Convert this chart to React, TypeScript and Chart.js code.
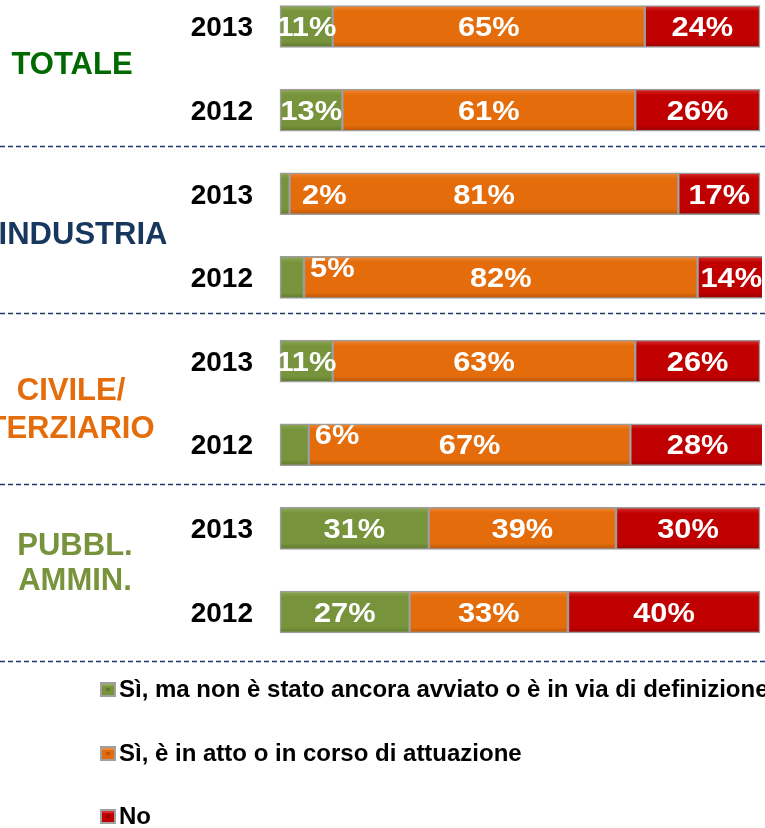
import React, { useEffect, useRef } from "react";
import { Chart, registerables } from "chart.js";
Chart.register(...registerables);

const years = ["2013", "2012", "2013", "2012", "2013", "2012", "2013", "2012"];
const groupLines = [["TOTALE"], ["INDUSTRIA"], ["CIVILE/", "TERZIARIO"], ["PUBBL.", "AMMIN."]];
const seriesNames = [
  "Sì, ma non è stato ancora avviato o è in via di definizione",
  "Sì, è in atto o in corso di attuazione",
  "No",
];
const notStarted = [11, 13, 2, 5, 11, 6, 31, 27];
const inProgress = [65, 61, 81, 82, 63, 67, 39, 33];
const noPlan = [24, 26, 17, 14, 26, 28, 30, 40];

const FONT = '"Liberation Sans", Arial, sans-serif';
const baseColors = ["#77933C", "#E46C0A", "#C00000"];
const lightColors = ["#8FAA55", "#F0893A", "#D83030"];
const darkColors = ["#5E7A2A", "#B8560A", "#960000"];
const groupColors = ["#006A00", "#17375E", "#E46C0A", "#77933C"];
// per-group text placement (center x, y offsets of each line from the pair midpoint)
const groupX = [72, 83, 71, 75];
const groupDy = [[-2.5], [0], [-11.5, 27], [-24, 11]];

function grad(k: number) {
  return (c: any) => {
    const ys = c.chart.scales?.y;
    if (!ys || c.dataIndex === undefined) return baseColors[k];
    const yc = ys.getPixelForValue(c.dataIndex);
    if (!Number.isFinite(yc)) return baseColors[k];
    const g = c.chart.ctx.createLinearGradient(0, yc - 21, 0, yc + 21);
    g.addColorStop(0, lightColors[k]);
    g.addColorStop(0.14, baseColors[k]);
    g.addColorStop(0.86, baseColors[k]);
    g.addColorStop(1, darkColors[k]);
    return g;
  };
}

const decorPlugin = {
  id: "decor",
  afterDatasetsDraw(chart: any) {
    const ctx = chart.ctx as CanvasRenderingContext2D;
    const ys = chart.scales.y;
    const area = chart.chartArea;

    // year (category) labels
    ctx.save();
    ctx.font = `bold 28px ${FONT}`;
    ctx.fillStyle = "#000000";
    ctx.textAlign = "right";
    ctx.textBaseline = "middle";
    (chart.data.labels as string[]).forEach((lab, i) => {
      ctx.fillText(lab, area.left - 27, ys.getPixelForValue(i) + 2);
    });
    ctx.restore();

    // data labels
    chart.data.datasets.forEach((ds: any, di: number) => {
      const meta = chart.getDatasetMeta(di);
      meta.data.forEach((bar: any, i: number) => {
        const v = ds.data[i] as number;
        const p = bar.getProps(["x", "y", "base"], true);
        ctx.save();
        ctx.font = `bold 28px ${FONT}`;
        ctx.fillStyle = "#FFFFFF";
        ctx.textBaseline = "middle";
        const txt = v + "%";
        if (v < 8) {
          const left = Math.max(p.x + 6, area.left + 22);
          const yy = p.y + (v >= 5 ? -8 : 2);
          ctx.translate(left, yy);
          ctx.scale(1.1, 1);
          ctx.textAlign = "left";
          ctx.fillText(txt, 0, 0);
        } else {
          ctx.translate((p.x + p.base) / 2, p.y + 2);
          ctx.scale(1.1, 1);
          ctx.textAlign = "center";
          ctx.fillText(txt, 0, 0);
        }
        ctx.restore();
      });
    });

    // group labels
    groupLines.forEach((lines, g) => {
      const mid = (ys.getPixelForValue(2 * g) + ys.getPixelForValue(2 * g + 1)) / 2;
      ctx.save();
      ctx.font = `bold 31px ${FONT}`;
      ctx.fillStyle = groupColors[g];
      ctx.textAlign = "center";
      ctx.textBaseline = "middle";
      lines.forEach((t, li) => ctx.fillText(t, groupX[g], mid + groupDy[g][li]));
      ctx.restore();
    });

    // dashed separators
    const sepY = [
      (ys.getPixelForValue(1) + ys.getPixelForValue(2)) / 2 - 6,
      (ys.getPixelForValue(3) + ys.getPixelForValue(4)) / 2 - 6,
      (ys.getPixelForValue(5) + ys.getPixelForValue(6)) / 2 - 3,
      ys.getPixelForValue(7) + 49,
    ];
    ctx.save();
    ctx.strokeStyle = "#1F3A6B";
    ctx.lineWidth = 1.5;
    ctx.setLineDash([5, 3]);
    sepY.forEach((y) => {
      ctx.beginPath();
      ctx.moveTo(0, Math.round(y) + 0.5);
      ctx.lineTo(chart.width, Math.round(y) + 0.5);
      ctx.stroke();
    });
    ctx.restore();

    // legend
    const legY = [689, 753, 816];
    chart.data.datasets.forEach((ds: any, di: number) => {
      const y = legY[di];
      ctx.save();
      ctx.fillStyle = "#A0A0A0";
      ctx.fillRect(100, y - 7, 16, 15);
      ctx.fillStyle = baseColors[di];
      ctx.fillRect(102, y - 5, 12, 11);
      ctx.fillStyle = lightColors[di];
      ctx.fillRect(102, y - 5, 12, 2);
      ctx.fillStyle = darkColors[di];
      ctx.fillRect(106, y - 1, 4, 3);
      ctx.font = `bold 24px ${FONT}`;
      ctx.fillStyle = "#000000";
      ctx.textBaseline = "middle";
      ctx.textAlign = "left";
      ctx.fillText(ds.label, 119, y + 1);
      ctx.restore();
    });
  },
};

export default function App() {
  const ref = useRef<HTMLCanvasElement>(null);
  useEffect(() => {
    document.body.style.margin = "0";
    const canvas = ref.current!;
    const chart = new Chart(canvas, {
      type: "bar",
      data: {
        labels: years,
        datasets: [notStarted, inProgress, noPlan].map((d, k) => ({
          label: seriesNames[k],
          data: d,
          backgroundColor: grad(k) as any,
          borderColor: "#9C9C9C",
          borderWidth: 1.5,
          borderSkipped: false,
          barThickness: 42,
          clip: { left: false, top: false, bottom: false, right: 2 } as any,
        })),
      },
      options: {
        indexAxis: "y",
        animation: false,
        responsive: false,
        devicePixelRatio: 1,
        layout: { padding: { left: 280, right: 5, top: 26.5, bottom: 216 } },
        plugins: { legend: { display: false }, tooltip: { enabled: false } },
        scales: {
          x: { stacked: true, min: 0, max: 100, display: false },
          y: { stacked: true, offset: false, display: false },
        },
      },
      plugins: [decorPlugin],
    });
    return () => chart.destroy();
  }, []);
  return (
    <div style={{ position: "absolute", left: 0, top: 0, width: 765, height: 828 }}>
      <canvas ref={ref} width={765} height={828} style={{ display: "block" }} />
    </div>
  );
}
